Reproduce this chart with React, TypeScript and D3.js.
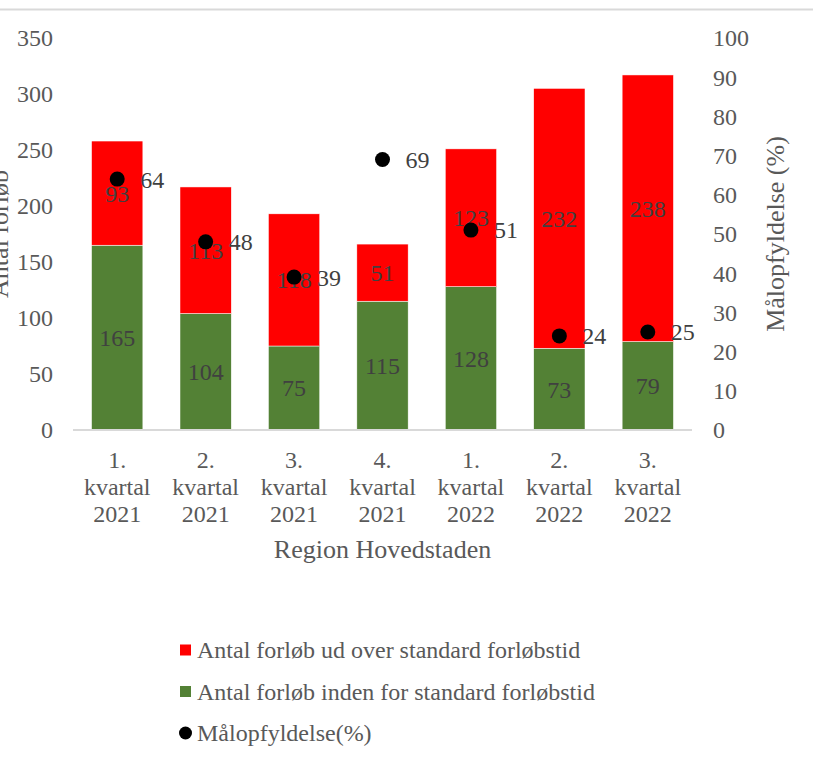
import React from "react";
import * as d3 from "d3";

const categories: string[][] = [
  ["1.", "kvartal", "2021"],
  ["2.", "kvartal", "2021"],
  ["3.", "kvartal", "2021"],
  ["4.", "kvartal", "2021"],
  ["1.", "kvartal", "2022"],
  ["2.", "kvartal", "2022"],
  ["3.", "kvartal", "2022"],
];
const withinValues = [165, 104, 75, 115, 128, 73, 79];
const overValues = [93, 113, 118, 51, 123, 232, 238];
const goalPercent = [64, 48, 39, 69, 51, 24, 25];
const leftTicks = [0, 50, 100, 150, 200, 250, 300, 350];
const rightTicks = [0, 10, 20, 30, 40, 50, 60, 70, 80, 90, 100];
const seriesNames = [
  "Antal forløb ud over standard forløbstid",
  "Antal forløb inden for standard forløbstid",
  "Målopfyldelse(%)",
];
const xTitle = "Region Hovedstaden";
const leftTitle = "Antal forløb";
const rightTitle = "Målopfyldelse (%)";

const W = 813;
const H = 762;
const FONT = "Liberation Serif, DejaVu Serif, serif";
const GRAY = "#595959";
const DARK = "#404040";
const RED = "#FF0000";
const GREEN = "#538135";

export default function App() {
  const plotLeft = 73;
  const plotRight = 692;
  const plotTop = 38;
  const plotBottom = 430;

  const x = d3
    .scaleBand<number>()
    .domain(categories.map((_, i) => i))
    .range([plotLeft, plotRight])
    .paddingInner(0.42)
    .paddingOuter(0.21);
  const yL = d3.scaleLinear().domain([0, 350]).range([plotBottom, plotTop]);
  const yR = d3.scaleLinear().domain([0, 100]).range([plotBottom, plotTop]);
  const bw = x.bandwidth();
  const ts = { fontFamily: FONT };

  return (
    <svg
      width={W}
      height={H}
      style={{ position: "absolute", left: 0, top: 0, background: "#fff", fontFamily: FONT }}
    >
      <rect x={0} y={0} width={W} height={H} fill="#fff" />
      <line x1={0} x2={W} y1={9.5} y2={9.5} stroke="#d9d9d9" strokeWidth={2} />

      {leftTicks.map((t) => (
        <text key={"l" + t} style={ts} x={53} y={yL(t)} dy="0.35em" textAnchor="end" fontSize={24} fill={GRAY}>
          {t}
        </text>
      ))}
      {rightTicks.map((t) => (
        <text key={"r" + t} style={ts} x={713} y={yR(t)} dy="0.35em" textAnchor="start" fontSize={24} fill={GRAY}>
          {t}
        </text>
      ))}

      {categories.map((_, i) => {
        const x0 = x(i)!;
        const g = withinValues[i];
        const r = overValues[i];
        return (
          <g key={"b" + i}>
            <rect x={x0} y={yL(g)} width={bw} height={yL(0) - yL(g)} fill={GREEN} stroke="#fff" strokeWidth={0.5} />
            <rect x={x0} y={yL(g + r)} width={bw} height={yL(g) - yL(g + r)} fill={RED} stroke="#fff" strokeWidth={0.5} />
          </g>
        );
      })}

      <line x1={plotLeft} x2={plotRight} y1={plotBottom} y2={plotBottom} stroke="#d9d9d9" strokeWidth={2} />

      {categories.map((_, i) => {
        const cx = x(i)! + bw / 2;
        const g = withinValues[i];
        const r = overValues[i];
        return (
          <g key={"bl" + i} fontSize={24} fill={DARK} textAnchor="middle">
            <text style={ts} x={cx} y={(yL(0) + yL(g)) / 2} dy="0.35em">{g}</text>
            <text style={ts} x={cx} y={(yL(g) + yL(g + r)) / 2} dy="0.35em">{r}</text>
          </g>
        );
      })}

      {goalPercent.map((p, i) => {
        const cx = x(i)! + bw / 2;
        return (
          <g key={"d" + i}>
            <circle cx={cx} cy={yR(p)} r={7.5} fill="#000" />
            <text style={ts} x={cx + 23} y={yR(p)} dy="0.35em" fontSize={24} fill={DARK}>
              {p}
            </text>
          </g>
        );
      })}

      {categories.map((lines, i) => {
        const cx = x(i)! + bw / 2;
        return (
          <text key={"x" + i} style={ts} x={cx} textAnchor="middle" fontSize={24} fill={GRAY}>
            {lines.map((ln, j) => (
              <tspan key={j} x={cx} y={468 + j * 27}>
                {ln}
              </tspan>
            ))}
          </text>
        );
      })}

      <text style={ts} x={(plotLeft + plotRight) / 2} y={558} textAnchor="middle" fontSize={26} fill={GRAY}>
        {xTitle}
      </text>
      <text style={ts} transform={`translate(8, ${(plotTop + plotBottom) / 2}) rotate(-90)`} textAnchor="middle" fontSize={26} fill={GRAY}>
        {leftTitle}
      </text>
      <text style={ts} transform={`translate(784, ${(plotTop + plotBottom) / 2}) rotate(-90)`} textAnchor="middle" fontSize={26} fill={GRAY}>
        {rightTitle}
      </text>

      {seriesNames.map((name, i) => {
        const cy = 650 + i * 41.5;
        return (
          <g key={"lg" + i}>
            {i < 2 ? (
              <rect x={180} y={cy - 5.5} width={11} height={11} fill={i === 0 ? RED : GREEN} />
            ) : (
              <circle cx={185.5} cy={cy} r={6.5} fill="#000" />
            )}
            <text style={ts} x={197} y={cy} dy="0.35em" fontSize={24} fill={GRAY}>
              {name}
            </text>
          </g>
        );
      })}
    </svg>
  );
}
